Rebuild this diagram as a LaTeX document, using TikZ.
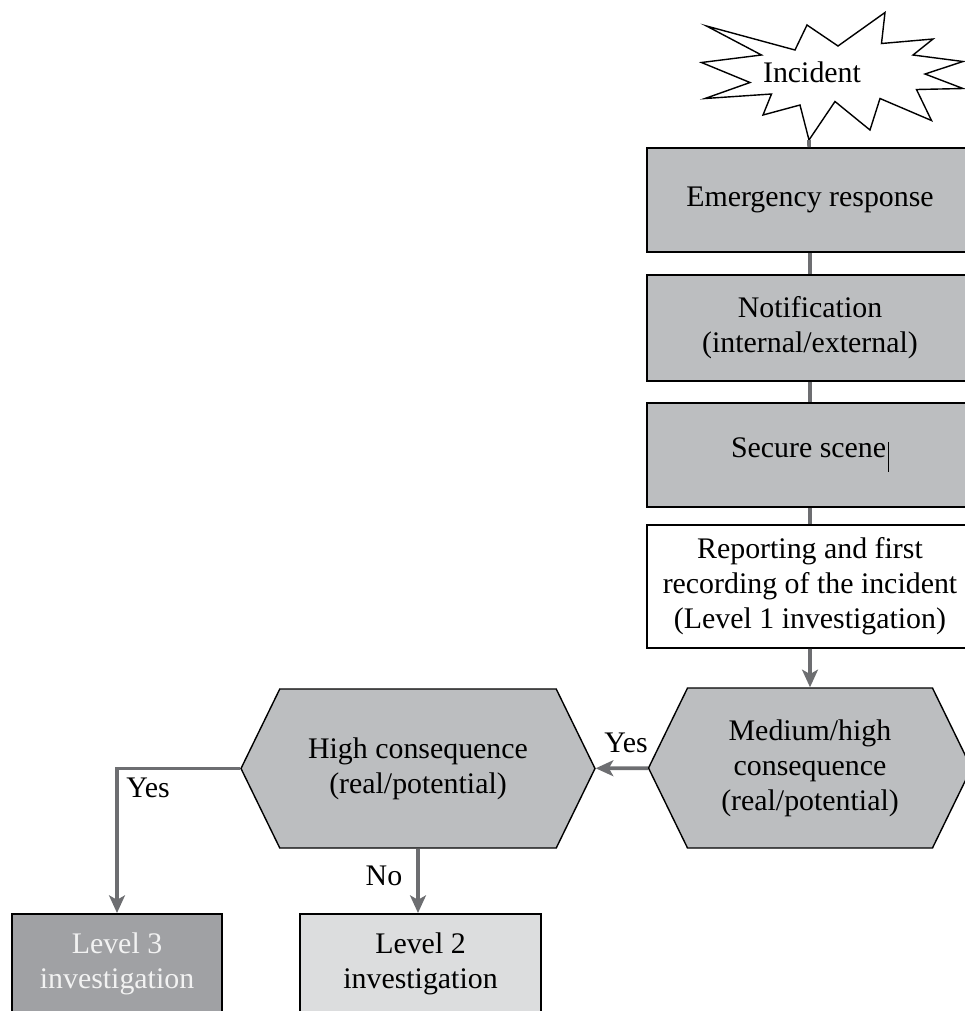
\documentclass[tikz,border=0pt]{standalone}
\usepackage{fontspec}
\setmainfont{Liberation Serif}
\usetikzlibrary{shapes.symbols,arrows.meta}
\definecolor{boxgray}{HTML}{BCBEC0}
\definecolor{darkgray}{HTML}{A0A1A4}
\definecolor{lightgray}{HTML}{DCDDDE}
\definecolor{linegray}{HTML}{6D6E71}
\begin{document}
\begin{tikzpicture}[
  every node/.style={font=\fontsize{17}{20}\selectfont, align=center, inner sep=0pt},
  box/.style={draw, line width=1.1pt, fill=boxgray, minimum width=6.52cm},
  hexa/.style={draw, line width=0.8pt, fill=boxgray, shape=signal, signal to=east and west, signal pointer angle=128},
  conn/.style={draw=linegray, line width=2.1pt},
  arr/.style={conn, -{Stealth[length=10pt,width=9pt,inset=2.5pt]}}]
\useasboundingbox (0,0) rectangle (19.3,-20.22);
\clip (0,0) rectangle (19.3,-20.22);

% incident burst
\draw[line width=0.8pt, fill=white] (14.13,-0.52) -- (15.90,-1.00) -- (16.14,-0.50) -- (16.76,-0.92)
  -- (17.70,-0.25) -- (17.63,-0.87) -- (18.66,-0.78) -- (18.26,-1.10) -- (19.26,-1.23)
  -- (18.50,-1.48) -- (19.26,-1.77) -- (18.33,-1.79) -- (18.63,-2.41) -- (17.60,-1.97)
  -- (17.40,-2.60) -- (16.70,-2.03) -- (16.18,-2.80) -- (16.00,-2.10) -- (15.26,-2.30)
  -- (15.43,-1.88) -- (14.10,-1.97) -- (15.00,-1.65) -- (14.03,-1.25) -- (15.23,-1.10) -- cycle;
\node (inc) at (16.24,-1.44) {Incident};
\coordinate (tip) at (16.18,-2.80);

\node[box, minimum height=2.08cm] (emerg) at (16.2,-4.00) {Emergency response};
\node[box, minimum height=2.12cm] (notif) at (16.2,-6.56) {Notification\\(internal/external)};
\node[box, minimum height=2.08cm] (secure) at (16.2,-9.10) {Secure scene\hspace{1pt}\rule[-0.28cm]{0.6pt}{0.6cm}};
\node[box, fill=white, minimum height=2.46cm] (report) at (16.2,-11.73) {Reporting and first\\recording of the incident\\(Level 1 investigation)};

\node[hexa, minimum width=6.46cm, minimum height=3.2cm] (medium) at (16.2,-15.36) {Medium/high\\consequence\\(real/potential)};
\node[hexa, minimum width=7.08cm, minimum height=3.18cm] (high) at (8.36,-15.37) {High consequence\\(real/potential)};

\node[box, fill=darkgray, text=white!95!black, minimum width=4.2cm, minimum height=2.0cm, anchor=north] (lev3) at (2.34,-18.26) {Level 3\\investigation};
\node[box, fill=lightgray, minimum width=4.82cm, minimum height=2.0cm, anchor=north] (lev2) at (8.41,-18.26) {Level 2\\investigation};

\path[conn] (tip) -- (emerg);
\path[conn] (emerg) -- (notif);
\path[conn] (notif) -- (secure);
\path[conn] (secure) -- (report);
\path[arr] (report) -- (medium);
\path[arr] (medium) -- (high);
\path[arr] (high.west) -| (lev3.north);
\path[arr] (high.south) -- (high.south |- lev2.north);

\node (yes1) at (12.52,-14.86) {Yes};
\node (yes2) at (2.96,-15.76) {Yes};
\node (no) at (7.68,-17.52) {No};
\end{tikzpicture}
\end{document}
